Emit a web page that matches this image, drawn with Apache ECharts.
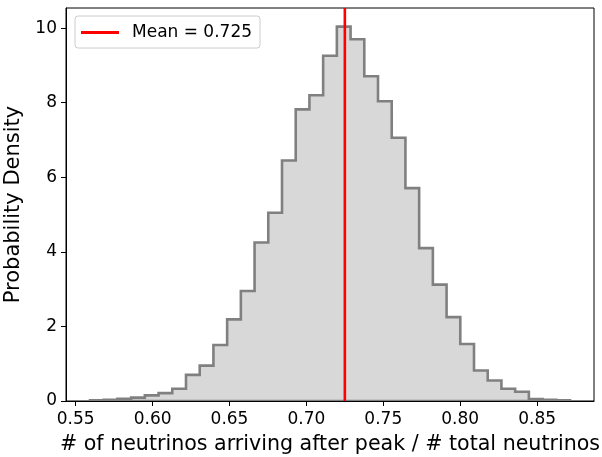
<!DOCTYPE html>
<html>
<head>
<meta charset="utf-8">
<script src="https://cdn.jsdelivr.net/npm/echarts@6/dist/echarts.min.js"></script>
<style>html,body{margin:0;padding:0;background:#fff;}#c{width:602px;height:457px;}</style>
</head>
<body>
<div id="c"></div>
<script>
// Histogram: 35 equal-width bins
var binStart = 0.5593;
var binEnd = 0.8714;
var density = [0.02, 0.03, 0.06, 0.09, 0.15, 0.21, 0.33, 0.70, 0.95, 1.50,
               2.19, 2.95, 4.25, 5.05, 6.45, 7.82, 8.20, 9.26, 10.04, 9.70,
               8.71, 8.04, 7.06, 5.71, 4.10, 3.12, 2.25, 1.53, 0.82, 0.55,
               0.33, 0.25, 0.05, 0.03, 0.02];
var meanValue = 0.725;
var xTicks = [0.55, 0.60, 0.65, 0.70, 0.75, 0.80, 0.85];
var yTicks = [0, 2, 4, 6, 8, 10];
var xRange = [0.5437, 0.8870];
var yRange = [0, 10.54];

var nBins = density.length;
var binW = (binEnd - binStart) / nBins;
var outline = [[binStart, 0]];
for (var i = 0; i < nBins; i++) {
  outline.push([binStart + i * binW, density[i]]);
  outline.push([binStart + (i + 1) * binW, density[i]]);
}
outline.push([binEnd, 0]);

var FONT = 'DejaVu Sans';
var chart = echarts.init(document.getElementById('c'), null, {renderer: 'canvas'});
chart.setOption({
  animation: false,
  backgroundColor: '#fff',
  grid: {left: 66, right: 8, top: 8, bottom: 56, show: true, borderColor: '#000', borderWidth: 1,
    backgroundColor: 'transparent', containLabel: false, outerBoundsMode: 'none'},
  legend: {
    left: 75, top: 16,
    data: [{name: 'Mean = ' + meanValue.toFixed(3)}],
    icon: 'rect', itemWidth: 38, itemHeight: 3, itemGap: 10,
    textStyle: {fontFamily: FONT, fontSize: 17, color: '#000', padding: [0, 0, 0, 8]},
    backgroundColor: '#fff', borderColor: '#cccccc', borderWidth: 1, borderRadius: 3,
    padding: [8, 8, 7, 6]
  },
  xAxis: {
    type: 'value', min: xRange[0], max: xRange[1],
    name: '# of neutrinos arriving after peak / # total neutrinos',
    nameLocation: 'middle', nameGap: 33,
    nameTextStyle: {fontFamily: FONT, fontSize: 20.6, color: '#000'},
    axisLine: {show: true, onZero: false, lineStyle: {color: '#000', width: 1}},
    axisTick: {show: true, length: 5, lineStyle: {color: '#000'}, customValues: xTicks},
    axisLabel: {fontFamily: FONT, fontSize: 17, color: '#000', margin: 10, customValues: xTicks,
      formatter: function (v) { return v.toFixed(2); }},
    splitLine: {show: false}
  },
  yAxis: {
    type: 'value', min: yRange[0], max: yRange[1],
    name: 'Probability Density',
    nameLocation: 'middle', nameGap: 38,
    nameTextStyle: {fontFamily: FONT, fontSize: 21, color: '#000'},
    axisLine: {show: true, lineStyle: {color: '#000', width: 1}},
    axisTick: {show: true, length: 5, lineStyle: {color: '#000'}, customValues: yTicks},
    axisLabel: {fontFamily: FONT, fontSize: 17, color: '#000', margin: 9, customValues: yTicks,
      formatter: function (v) { return String(v); }},
    splitLine: {show: false}
  },
  series: [
    {
      type: 'custom',
      name: 'hist',
      silent: true,
      data: [0],
      clip: true,
      renderItem: function (params, api) {
        var pts = outline.map(function (p) { return api.coord(p); });
        return {
          type: 'polygon',
          shape: {points: pts},
          style: {fill: '#d8d8d8', stroke: '#808080', lineWidth: 2.6, lineJoin: 'miter'}
        };
      },
      z: 2
    },
    {
      type: 'line',
      name: 'Mean = ' + meanValue.toFixed(3),
      data: [[meanValue, yRange[0]], [meanValue, yRange[1]]],
      symbol: 'none',
      lineStyle: {color: '#ff0000', width: 2.6},
      itemStyle: {color: '#ff0000'},
      z: 5
    }
  ]
});
</script>
</body>
</html>
